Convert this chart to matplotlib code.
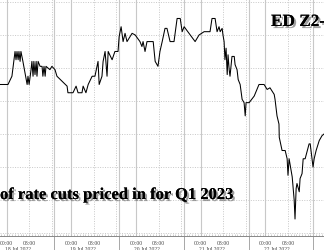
import matplotlib
matplotlib.use("Agg")
import matplotlib.pyplot as plt
import matplotlib.patheffects as pe
from matplotlib.transforms import blended_transform_factory

# session hours (each trading session = 23h, 00:00 sits 6h into the session)
hours = [3.66, 6.5, 7.9, 9.0, 9.35, 9.7, 10.1, 10.4, 10.8, 11.1, 11.8, 13.3, 13.6, 14.0,
         14.7, 15.0, 15.4, 15.7, 16.1, 16.5, 16.8, 17.2, 17.9, 18.6, 18.9, 19.3, 19.7, 20.0,
         21.4, 22.1, 23.2, 23.9, 25.7, 27.5, 27.8, 29.6, 30.7, 31.4, 32.8, 33.2, 34.2, 35.0,
         36.4, 37.4, 38.5, 38.9, 39.9, 40.3, 41.0, 41.7, 42.1, 43.5, 44.5, 45.6, 46.0, 46.7,
         47.4, 48.1, 48.8, 50.6, 51.7, 53.4, 54.1, 54.5, 55.2, 55.9, 58.1, 58.8, 59.8, 60.5,
         61.3, 62.3, 63.0, 64.1, 65.5, 66.6, 67.7, 68.4, 69.1, 73.0, 74.4, 76.2, 78.3, 79.0,
         80.1, 80.8, 81.5, 81.9, 82.6, 82.9, 83.3, 83.6, 84.0, 84.4, 84.7, 85.1, 85.4, 86.1,
         86.9, 87.2, 87.9, 88.3, 89.0, 89.7, 90.4, 90.8, 91.1, 91.5, 92.2, 94.0, 95.7, 97.5,
         98.6, 99.6, 101.1, 101.4, 101.8, 102.1, 102.8, 102.9, 103.9, 105.0, 105.7, 106.0,
         106.4, 107.5, 108.2, 108.5, 108.9, 109.2, 110.0, 110.3, 111.0, 111.4, 112.1, 113.5,
         113.9, 114.9, 115.3, 116.0, 117.1, 118.1, 118.8]
spread = [25.0, 25.0, 25.5, 27.0, 26.5, 27.0, 26.5, 27.0, 26.4, 27.0, 26.4, 25.0, 25.5, 25.0,
          25.9, 26.4, 25.5, 26.4, 25.6, 26.4, 25.5, 26.4, 26.1, 26.1, 25.5, 26.1, 25.5, 26.1,
          25.9, 26.1, 25.9, 25.5, 25.2, 24.9, 24.5, 24.5, 24.9, 24.5, 24.5, 24.9, 24.5, 25.0,
          25.5, 25.5, 26.4, 25.0, 25.5, 26.4, 27.0, 25.5, 27.0, 26.5, 27.0, 27.0, 27.9, 28.5,
          27.6, 28.1, 27.6, 28.1, 28.0, 27.6, 27.3, 27.6, 27.0, 27.6, 27.6, 26.4, 26.1, 27.0,
          27.6, 28.4, 28.4, 27.6, 27.6, 29.0, 29.0, 28.2, 28.5, 27.6, 28.0, 28.2, 28.2, 29.0,
          29.0, 28.2, 28.5, 28.2, 28.4, 28.0, 27.6, 26.5, 27.2, 25.6, 26.8, 25.9, 25.5, 26.7,
          26.7, 26.2, 25.9, 25.3, 25.0, 24.1, 23.9, 23.1, 23.9, 23.9, 23.9, 24.3, 25.0, 25.0,
          24.7, 24.8, 24.4, 24.1, 23.5, 23.1, 22.6, 21.8, 21.0, 21.0, 20.5, 19.5, 20.5, 19.4,
          18.0, 16.85, 18.7, 19.0, 18.5, 19.3, 19.6, 20.5, 20.5, 21.4, 21.4, 20.0, 20.5, 21.0,
          21.6, 21.9, 22.0]
days = ["18 Jul 2022", "19 Jul 2022", "20 Jul 2022", "21 Jul 2022", "22 Jul 2022"]
clock = ["00:00", "08:00"]
levels = [16, 18, 20, 22, 24, 26, 28, 30]

fig = plt.figure(figsize=(3.24, 2.51), dpi=100)
ax = fig.add_axes([0, 14 / 251, 1, 237 / 251])
ax.plot(hours, spread, color="black", lw=0.75, zorder=3)
ax.set_xlim(3.66, 118.8)
ax.set_ylim(15.82, 30.18)

grid_c = "#c8c8c8"
for v in levels:
    ax.axhline(v, color=grid_c, lw=0.7, ls=(0, (1, 1.5)), zorder=1)

trans = blended_transform_factory(ax.transData, ax.transAxes)
ftrans = blended_transform_factory(ax.transData, fig.transFigure)
for k in range(6):
    start = 23 * k
    ax.axvline(start, color=grid_c, lw=0.8, zorder=1)
    ax.vlines(start, -0.06, 0, transform=trans, clip_on=False, color="#999999", lw=0.6)
for k, day in enumerate(days):
    start = 23 * k
    ax.axvline(start + 6, color=grid_c, lw=0.8, zorder=1)
    ax.axvline(start + 14, color=grid_c, lw=0.7, ls=(0, (1, 1.5)), zorder=1)
    ax.axvline(start + 22, color=grid_c, lw=0.7, ls=(0, (1, 1.5)), zorder=1)
    for off, lab in zip([6, 14], clock):
        fig.text(start + off, 1 - 245 / 251, lab, transform=ftrans, ha="center",
                 va="baseline", fontsize=4.1, family="Liberation Serif", color="#444444")
    fig.text(start + 10, 1 - 251.5 / 251, day, transform=ftrans, ha="center",
             va="baseline", fontsize=4.1, family="Liberation Serif", color="#444444")

ax.set_xticks([])
ax.set_yticks([])
ax.set_xticks(range(4, 119), minor=True)
ax.tick_params(which="minor", direction="in", length=1.5, color="#bbbbbb", width=0.5)
for s in ["top", "left", "right"]:
    ax.spines[s].set_visible(False)
ax.spines["bottom"].set_color("#888888")
ax.spines["bottom"].set_linewidth(0.7)

shadow = [pe.withSimplePatchShadow(offset=(1.5, -1.5), shadow_rgbFace="#777777", alpha=0.7),
          pe.Normal()]
fig.text(271 / 324, 1 - 27 / 251, "ED Z2-", fontsize=12.4, family="Liberation Serif",
         weight="bold", ha="left", va="baseline", path_effects=shadow)
fig.text(0, 1 - 200 / 251, "of rate cuts priced in for Q1 2023", fontsize=11.9,
         family="Liberation Serif", weight="bold", ha="left", va="baseline",
         path_effects=shadow)

fig.savefig("out.png", dpi=100)
